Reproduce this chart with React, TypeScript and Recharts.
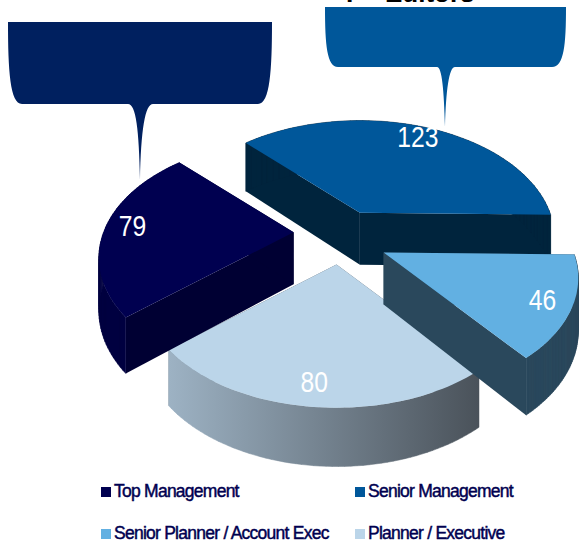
import { PieChart, Pie, Legend } from "recharts";

const categories = ["Top Management", "Senior Management", "Senior Planner / Account Exec", "Planner / Executive"];
const headcount = [79, 123, 46, 80];
const topColors = ["#000050", "#00579a", "#62b0e2", "#bbd5e9"];
const sideColors = ["#000033", "#00243d", "#2a485c", "#4b535b"];
const rimColors = ["#000040", "#00243d", "#2a485c", "url(#plannerRim)"];

// painted back to front, the planner wedge sits under the wedge beside it
const drawOrder = [3, 0, 1, 2];

const rows = drawOrder.map((i) => ({
  name: categories[i],
  value: headcount[i],
  fill: topColors[i],
  side: sideColors[i],
  rim: rimColors[i],
}));

const WIDTH = 581;
const HEIGHT = 543;
const FLATTEN = 0.59; // vertical squash of the tilted disc
const TILT = 0.217; // how much nearer points grow
const EXPLODE = 0.25;
const ROLL = 0.018; // exploded wedges drift a little down on the right
const DEPTH = 52;

type Pt = { x: number; y: number };

// project a disc angle (clockwise from east, fraction f of the radius) relative to the apex
function project(deg: number, radius: number, f = 1): Pt & { s: number } {
  const a = (deg * Math.PI) / 180;
  const s = 1 / (1 - TILT * Math.sin(a) * f);
  return { x: radius * Math.cos(a) * f * s, y: radius * FLATTEN * Math.sin(a) * f * s, s };
}

function apexOf(cx: number, cy: number, mid: number, radius: number): Pt {
  const a = (mid * Math.PI) / 180;
  return {
    x: cx + radius * EXPLODE * Math.cos(a),
    y: cy + radius * FLATTEN * EXPLODE * Math.sin(a) + radius * ROLL * Math.cos(a),
  };
}

const pathOf = (pts: Pt[]) => "M" + pts.map((p) => `${p.x.toFixed(1)},${p.y.toFixed(1)}`).join("L") + "Z";

function SliceShape(props: any) {
  const { cx, cy, outerRadius, startAngle, endAngle, fill, side, rim } = props;
  const from = -startAngle;
  const to = -endAngle;
  const mid = (from + to) / 2;
  const apex = apexOf(cx, cy, mid, outerRadius);

  const rimTop: Pt[] = [];
  const rimBottom: Pt[] = [];
  const steps = 60;
  for (let i = 0; i <= steps; i++) {
    const p = project(from + ((to - from) * i) / steps, outerRadius);
    rimTop.push({ x: apex.x + p.x, y: apex.y + p.y });
    rimBottom.push({ x: apex.x + p.x, y: apex.y + p.y + DEPTH * Math.sqrt(p.s) });
  }
  const low: Pt = { x: apex.x, y: apex.y + DEPTH };
  const cut = (i: number) => pathOf([apex, rimTop[i], rimBottom[i], low]);

  // sweep the rim as short quads so the wall keeps a straight vertical silhouette
  const wall = rimTop.slice(1).map((p, i) => pathOf([rimTop[i], p, rimBottom[i + 1], rimBottom[i]]));

  return (
    <g>
      <defs>
        <linearGradient id="plannerRim" gradientUnits="userSpaceOnUse" x1={apex.x - outerRadius} y1="0" x2={apex.x + outerRadius * 0.75} y2="0">
          <stop offset="0" stopColor="#a3b9cb" />
          <stop offset="1" stopColor="#4a525a" />
        </linearGradient>
      </defs>
      <path d={cut(0)} fill={side} />
      <path d={cut(steps)} fill={side} />
      <path d={wall.join("")} fill={rim} stroke={rim} strokeWidth={0.5} />
      <path d={pathOf([apex, ...rimTop])} fill={fill} />
    </g>
  );
}

function ValueLabel(props: any) {
  const { cx, cy, outerRadius, startAngle, endAngle, value } = props;
  const from = -startAngle;
  const to = -endAngle;
  const mid = (from + to) / 2;
  const apex = apexOf(cx, cy, mid, outerRadius);
  const p = project(mid + 1, outerRadius, 0.86);
  const x = apex.x + p.x;
  const y = apex.y + p.y;
  return (
    <text
      transform={`translate(${x},${y}) scale(0.85,1)`}
      textAnchor="middle"
      dominantBaseline="central"
      fill="#ffffff"
      fontFamily="Liberation Sans"
      fontSize={29}
    >
      {value}
    </text>
  );
}

function KeyRows() {
  const cell = (i: number, left: number, top: number) => (
    <div
      key={categories[i]}
      style={{
        position: "absolute",
        left,
        top,
        whiteSpace: "nowrap",
        color: "#000050",
        fontFamily: "Liberation Sans",
        fontSize: 17.5,
        letterSpacing: -0.75,
        lineHeight: "20px",
        WebkitTextStroke: "0.45px #000050",
      }}
    >
      <span
        style={{
          display: "inline-block",
          width: 10,
          height: 10,
          marginRight: 3,
          background: topColors[i],
        }}
      />
      {categories[i]}
    </div>
  );
  return (
    <div style={{ position: "absolute", left: 0, top: 0, width: WIDTH, height: HEIGHT }}>
      {cell(0, 101, 481)}
      {cell(1, 355, 481)}
      {cell(2, 101, 523)}
      {cell(3, 355, 523)}
    </div>
  );
}

// speech-bubble callouts above the pie, with the heading running off the top
function Callouts() {
  return (
    <svg width={WIDTH} height={HEIGHT} style={{ position: "absolute", left: 0, top: 0 }}>
      <text x={341} y={2} fontFamily="Liberation Sans" fontSize={26} fontWeight="bold" fill="#000000">
        Y
      </text>
      <text x={385} y={2} fontFamily="Liberation Sans" fontSize={26} fontWeight="bold" fill="#000000">
        Editors
      </text>
      <path
        d="M8,22 L272,22 C272,70 270,104 258,104 L153,104 C145,104 141,130 140,180 C139,130 136,104 128,104 L22,104 C10,104 8,70 8,22 Z"
        fill="#00205f"
      />
      <path
        d="M325,7 L566,7 C566,45 564,67 552,67 L455,67 C449,67 446,90 445,127 C444,90 442,67 437,67 L338,67 C327,67 325,45 325,7 Z"
        fill="#00579a"
      />
    </svg>
  );
}

export default function App() {
  return (
    <div style={{ position: "absolute", left: 0, top: 0, width: WIDTH, height: HEIGHT, overflow: "hidden", background: "#fff" }}>
      <Callouts />
      <div style={{ position: "absolute", left: 0, top: 0 }}>
        <PieChart width={WIDTH} height={HEIGHT} margin={{ top: 0, right: 0, bottom: 0, left: 0 }}>
          <Pie
            data={rows}
            dataKey="value"
            nameKey="name"
            cx={341}
            cy={237}
            outerRadius={190}
            startAngle={-51.5}
            endAngle={-411.5}
            stroke="none"
            isAnimationActive={false}
            shape={SliceShape}
            label={ValueLabel}
            labelLine={false}
          />
          <Legend content={() => <KeyRows />} wrapperStyle={{ left: 0, top: 0, width: WIDTH, height: HEIGHT }} />
        </PieChart>
      </div>
    </div>
  );
}
